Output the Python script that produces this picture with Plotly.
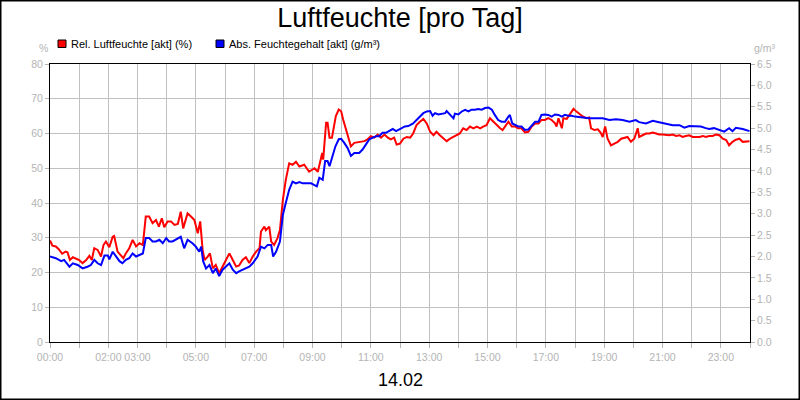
import numpy as np
import plotly.graph_objects as go

# red series: relative humidity (%), time in minutes after midnight
rel_min = [0, 5, 12, 18, 25, 32, 36, 41, 47, 53, 60, 67, 74, 81, 86, 91, 98, 105, 110, 115,
           122, 129, 132, 139, 146, 151, 156, 163, 170, 177, 184, 191, 197, 204, 211, 218, 224, 230, 235, 242,
           249, 256, 263, 269, 274, 283, 290, 297, 304, 309, 314, 318, 324, 329, 335, 341, 348, 355, 362, 369,
           376, 383, 389, 396, 403, 410, 417, 424, 431, 434, 441, 444, 451, 455, 461, 468, 473, 479, 485, 492,
           499, 506, 513, 523, 533, 544, 551, 557, 560, 562, 568, 571, 575, 580, 585, 588, 594, 599, 603, 609,
           614, 619, 626, 633, 640, 647, 653, 660, 667, 674, 681, 688, 695, 701, 708, 713, 720, 727, 734, 741,
           747, 754, 761, 768, 775, 782, 789, 795, 802, 809, 816, 823, 830, 837, 843, 850, 857, 864, 871, 878,
           885, 891, 898, 905, 912, 919, 926, 931, 936, 943, 950, 957, 963, 970, 977, 984, 991, 998, 1005, 1011,
           1018, 1025, 1032, 1039, 1042, 1046, 1053, 1056, 1063, 1070, 1077, 1083, 1090, 1096, 1103, 1109, 1113, 1120, 1127, 1133,
           1137, 1142, 1147, 1154, 1161, 1168, 1175, 1181, 1188, 1195, 1202, 1209, 1212, 1219, 1226, 1233, 1240, 1247, 1253, 1260,
           1267, 1274, 1281, 1288, 1295, 1301, 1308, 1315, 1322, 1329, 1336, 1343, 1349, 1356, 1363, 1370, 1377, 1384, 1391, 1397,
           1404, 1411, 1418, 1425, 1432, 1439]
rel_hum = [29.2, 27.7, 27.5, 26.7, 25.4, 26.0, 25.8, 23.6, 24.4, 24.1, 23.6, 22.7, 23.5, 24.8, 23.6, 27.0, 26.5, 24.6, 27.9, 28.9,
           27.3, 30.3, 30.5, 26.0, 25.0, 24.1, 25.5, 27.0, 29.4, 27.5, 28.4, 27.9, 36.1, 36.1, 34.2, 35.1, 33.2, 35.6, 33.0, 34.7,
           34.7, 33.7, 34.0, 37.5, 32.7, 37.0, 36.1, 35.1, 31.3, 34.7, 26.5, 23.6, 24.5, 25.5, 21.2, 22.2, 19.8, 21.7, 23.2, 25.5,
           23.6, 21.7, 22.0, 23.6, 24.4, 22.7, 24.6, 26.0, 27.0, 31.8, 33.2, 32.2, 33.2, 28.9, 27.9, 29.9, 32.2, 40.9, 46.6, 51.4,
           51.0, 51.9, 50.5, 51.0, 49.0, 50.0, 49.0, 52.4, 54.4, 52.5, 63.1, 63.1, 58.8, 58.8, 62.1, 65.0, 66.9, 66.4, 64.0, 61.2,
           58.3, 56.3, 57.3, 57.5, 57.5, 57.8, 58.3, 59.2, 58.8, 59.7, 58.8, 59.7, 58.8, 58.3, 58.8, 56.8, 57.1, 58.5, 59.0, 58.8,
           60.0, 62.4, 63.4, 64.2, 62.9, 60.5, 59.5, 60.5, 59.5, 58.5, 57.8, 58.5, 59.0, 59.5, 60.0, 61.5, 61.0, 62.0, 61.5, 62.0,
           61.5, 62.0, 62.4, 64.4, 63.4, 62.4, 61.5, 61.0, 62.0, 63.4, 62.0, 62.0, 61.5, 61.5, 60.3, 60.5, 62.0, 62.9, 62.9, 63.9,
           63.9, 64.4, 63.9, 62.9, 62.0, 64.4, 61.5, 64.4, 64.2, 65.8, 67.1, 66.3, 65.5, 64.9, 64.4, 64.6, 61.5, 61.0, 61.2, 60.2,
           59.0, 62.0, 58.5, 56.6, 57.1, 57.6, 58.5, 58.7, 59.0, 57.6, 58.5, 61.5, 59.0, 59.5, 60.0, 60.0, 60.3, 60.0, 59.7, 59.7,
           59.5, 59.5, 59.7, 59.3, 59.5, 59.0, 59.3, 59.5, 59.0, 59.0, 59.0, 59.3, 59.0, 59.3, 59.3, 59.7, 59.5, 58.5, 58.1, 56.6,
           57.6, 58.2, 58.5, 57.6, 57.8, 57.8]

# blue series: absolute moisture content (g/m³)
abs_min = [0, 12, 23, 29, 40, 47, 57, 67, 77, 84, 91, 98, 105, 112, 119, 122, 129, 136, 143, 149,
           156, 163, 170, 177, 184, 191, 197, 204, 211, 218, 225, 232, 239, 245, 252, 259, 269, 276, 283, 293,
           300, 307, 311, 315, 321, 328, 335, 341, 348, 355, 362, 369, 376, 383, 389, 403, 410, 417, 427, 434,
           441, 448, 455, 459, 465, 473, 479, 485, 492, 499, 506, 513, 520, 527, 537, 544, 549, 554, 561, 566,
           571, 575, 581, 587, 594, 599, 605, 612, 619, 626, 636, 643, 650, 657, 664, 671, 677, 684, 691, 698,
           705, 712, 719, 730, 737, 747, 754, 761, 768, 775, 782, 787, 792, 799, 806, 813, 816, 823, 830, 833,
           840, 847, 854, 861, 867, 874, 881, 888, 895, 902, 909, 915, 922, 929, 936, 943, 946, 951, 957, 963,
           970, 977, 984, 991, 998, 1005, 1011, 1018, 1025, 1032, 1039, 1046, 1053, 1059, 1066, 1073, 1080, 1096, 1109, 1123,
           1137, 1151, 1164, 1178, 1192, 1205, 1212, 1226, 1240, 1253, 1267, 1281, 1295, 1305, 1315, 1329, 1339, 1349, 1356, 1366,
           1377, 1387, 1397, 1404, 1411, 1425, 1439]
abs_hum = [2.00, 1.96, 1.89, 1.92, 1.76, 1.84, 1.80, 1.72, 1.76, 1.80, 1.92, 1.84, 1.80, 2.02, 2.02, 1.93, 2.11, 2.00, 1.89, 1.84,
           1.92, 1.96, 2.07, 2.00, 2.03, 2.07, 2.43, 2.43, 2.35, 2.35, 2.39, 2.31, 2.43, 2.35, 2.35, 2.39, 2.46, 2.19, 2.39, 2.31,
           2.23, 2.11, 2.23, 1.89, 1.72, 1.80, 1.61, 1.72, 1.54, 1.69, 1.76, 1.84, 1.69, 1.61, 1.65, 1.72, 1.76, 1.84, 2.00, 2.23,
           2.19, 2.27, 2.27, 2.00, 2.11, 2.35, 2.97, 3.25, 3.56, 3.75, 3.71, 3.74, 3.71, 3.71, 3.71, 3.67, 3.64, 3.84, 3.79, 4.23,
           4.23, 4.11, 4.35, 4.57, 4.74, 4.75, 4.66, 4.54, 4.35, 4.42, 4.42, 4.50, 4.62, 4.74, 4.78, 4.81, 4.81, 4.89, 4.89, 4.93,
           4.98, 4.93, 4.97, 5.04, 5.05, 5.11, 5.19, 5.27, 5.35, 5.39, 5.40, 5.29, 5.35, 5.32, 5.34, 5.35, 5.40, 5.31, 5.23, 5.34,
           5.32, 5.39, 5.43, 5.39, 5.43, 5.43, 5.45, 5.43, 5.47, 5.48, 5.43, 5.31, 5.19, 5.15, 5.15, 5.27, 5.31, 5.11, 5.07, 5.04,
           5.04, 4.96, 4.97, 5.07, 5.15, 5.15, 5.31, 5.32, 5.31, 5.27, 5.32, 5.31, 5.27, 5.31, 5.29, 5.29, 5.27, 5.25, 5.23, 5.23,
           5.23, 5.19, 5.21, 5.19, 5.15, 5.19, 5.14, 5.11, 5.17, 5.14, 5.11, 5.07, 5.07, 5.01, 5.05, 5.05, 5.04, 5.00, 4.98, 5.00,
           4.96, 4.92, 5.00, 4.93, 5.01, 4.98, 4.93]

hours = list(range(25))
hour_labels = ["00:00", "", "02:00", "03:00", "", "05:00", "", "07:00", "", "09:00", "", "11:00", "",
               "13:00", "", "15:00", "", "17:00", "", "19:00", "", "21:00", "", "23:00", ""]
left_ticks = list(range(0, 81, 10))
right_ticks = [i * 0.5 for i in range(14)]

series_names = ["Rel. Luftfeuchte [akt] (%)", "Abs. Feuchtegehalt [akt] (g/m³)"]
series_colors = ["#ff0000", "#0000ff"]

FONT = "Liberation Sans, Arial, sans-serif"
GREY = "#b4b4b4"

fig = go.Figure()
fig.add_trace(go.Scatter(x=np.array(abs_min) / 60, y=abs_hum, yaxis="y2", mode="lines",
                         line=dict(color=series_colors[1], width=2), showlegend=False))
fig.add_trace(go.Scatter(x=np.array(rel_min) / 60, y=rel_hum, mode="lines",
                         line=dict(color=series_colors[0], width=2), showlegend=False))

fig.update_layout(
    width=800, height=400,
    margin=dict(l=50, r=50, t=64, b=58),
    paper_bgcolor="white", plot_bgcolor="white",
    font=dict(family=FONT, size=11, color="black"),
    title=dict(text="Luftfeuchte [pro Tag]", x=0.5, xanchor="center", y=0.955, yanchor="middle",
               font=dict(size=27, color="black")),
    xaxis=dict(range=[0, 24], tickmode="array", tickvals=hours, ticktext=hour_labels,
               showgrid=True, gridcolor="#c0c0c0", gridwidth=1,
               showline=True, linecolor="black", linewidth=1, mirror=True,
               ticks="outside", ticklen=5, tickcolor=GREY,
               tickfont=dict(size=10.5, color=GREY), zeroline=False),
    yaxis=dict(range=[0, 80], tickmode="array", tickvals=left_ticks,
               showgrid=True, gridcolor="#c0c0c0", gridwidth=1,
               showline=True, linecolor="black", linewidth=1, mirror=True,
               ticks="outside", ticklen=4, tickcolor=GREY,
               tickfont=dict(size=10.5, color=GREY), zeroline=False),
    yaxis2=dict(range=[0, 6.5], overlaying="y", side="right", tickmode="array",
                tickvals=right_ticks, tickformat=".1f", showgrid=False,
                ticks="outside", ticklen=4, tickcolor=GREY,
                tickfont=dict(size=10.5, color=GREY), zeroline=False, showline=False),
    hovermode=False,
)

# legend boxes and texts above the plot
legend_x = [(58, 69), (216, 227)]
for (sq_x, txt_x), name, color in zip(legend_x, series_names, series_colors):
    fig.add_shape(type="rect", xref="paper", yref="paper",
                  x0=(sq_x - 50) / 700, x1=(sq_x + 8 - 50) / 700,
                  y0=(342 - 47.5) / 278, y1=(342 - 40) / 278,
                  fillcolor=color, line=dict(color="black", width=1))
    fig.add_annotation(text=name, xref="paper", yref="paper", x=(txt_x - 50) / 700,
                       y=(342 - 44) / 278, xanchor="left", yanchor="middle",
                       showarrow=False, font=dict(size=11, color="black"))

fig.add_annotation(text="%", xref="paper", yref="paper", x=(43 - 50) / 700, y=(342 - 48) / 278,
                   xanchor="center", yanchor="middle", showarrow=False, font=dict(size=10.5, color=GREY))
fig.add_annotation(text="g/m³", xref="paper", yref="paper", x=(765 - 50) / 700, y=(342 - 48) / 278,
                   xanchor="center", yanchor="middle", showarrow=False, font=dict(size=10.5, color=GREY))
fig.add_annotation(text="14.02", xref="paper", yref="paper", x=0.5, y=(342 - 380) / 278,
                   xanchor="center", yanchor="middle", showarrow=False, font=dict(size=18, color="black"))

# outer frame of the picture
fig.add_shape(type="rect", xref="paper", yref="paper",
              x0=(0.75 - 50) / 700, x1=(799.25 - 50) / 700,
              y0=(342 - 399.25) / 278, y1=(342 - 0.75) / 278,
              line=dict(color="black", width=1.5))

# page body has a default margin, drop it so the figure sits at the window corner
fig.write_html("out.html", config={"displayModeBar": False},
               post_script="document.body.style.margin = '0';")
